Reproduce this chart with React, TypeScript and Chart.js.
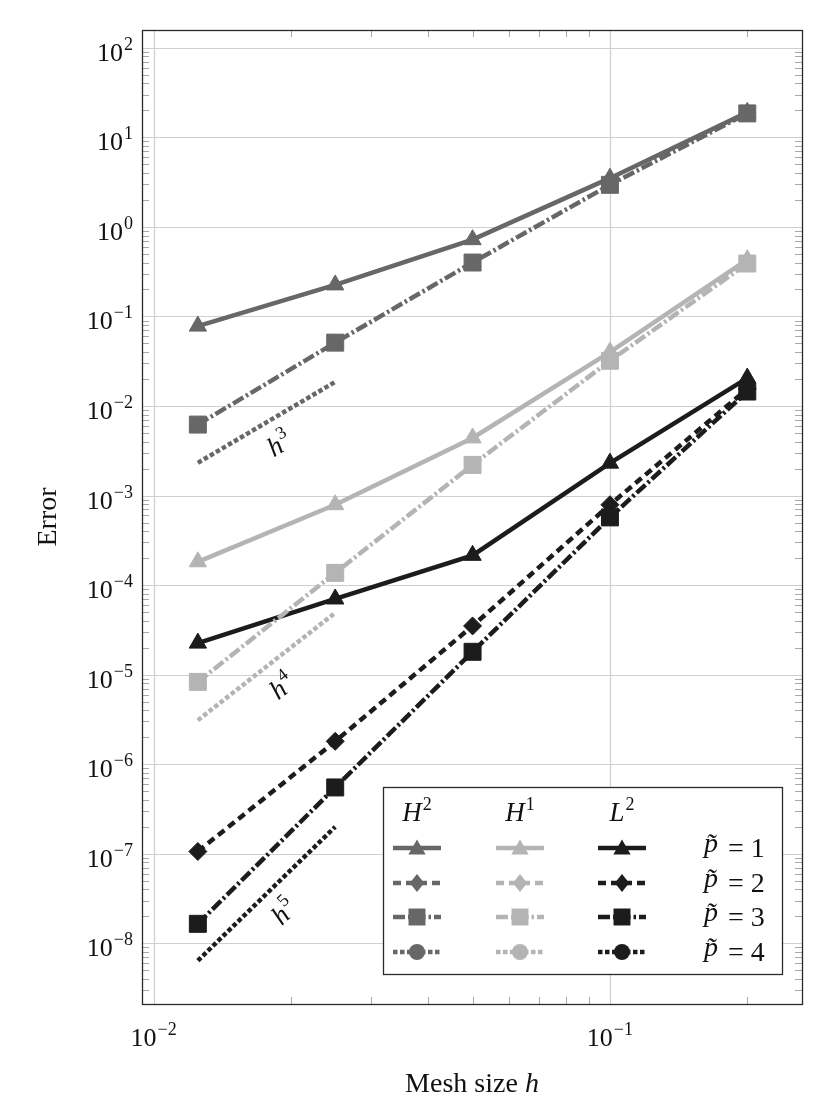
import React, { useEffect, useRef } from 'react';
import { Chart, registerables } from 'chart.js';

Chart.register(...registerables);

// ---------- data ----------
const meshSizes = [0.0125, 0.025, 0.05, 0.1, 0.2];

const h2P1 = [0.078, 0.225, 0.72, 3.5, 19];
const h2P3 = [0.0062, 0.051, 0.4, 2.95, 18.5];
const h1P1 = [1.82e-4, 7.9e-4, 4.4e-3, 0.04, 0.43];
const h1P3 = [8.3e-6, 1.37e-4, 2.2e-3, 0.032, 0.39];
const l2P1 = [2.25e-5, 7.0e-5, 2.15e-4, 2.3e-3, 0.0205];
const l2P2 = [1.06e-7, 1.8e-6, 3.5e-5, 7.9e-4, 0.0155];
const l2P3 = [1.65e-8, 5.5e-7, 1.8e-5, 5.7e-4, 0.0145];

const slopeX = [0.0125, 0.025];
const h3Ref = [0.00232, 0.0186];
const h4Ref = [3.1e-6, 4.9e-5];
const h5Ref = [6.4e-9, 2.0e-7];
const slopeLabels = ['3', '4', '5'];

const yTickExponents = [2, 1, 0, -1, -2, -3, -4, -5, -6, -7, -8];
const xTickExponents = [-2, -1];

const legendColumnBases = ['H', 'H', 'L'];
const legendColumnExps = ['2', '1', '2'];
const legendRowValues = ['1', '2', '3', '4'];

const xTitle = 'Mesh size ';
const xTitleVar = 'h';
const yTitle = 'Error';

// ---------- styles ----------
const DARK = '#676767';
const LIGHT = '#b4b4b4';
const BLACK = '#1c1c1c';
const SOLID: number[] = [];
const DASHED = [8, 5];
const DASHDOT = [12, 3, 2.5, 3];
const DOTTED = [4.5, 2.5];
const LW = 4.5;
const SERIF = "'Liberation Serif', 'DejaVu Serif', serif";

const xy = (ys: number[], xs: number[] = meshSizes) => xs.map((x, i) => ({ x, y: ys[i] }));

const series = (
  label: string,
  ys: number[],
  color: string,
  dash: number[],
  pointStyle: string,
  r: number
) => ({
  label,
  data: xy(ys),
  borderColor: color,
  backgroundColor: color,
  pointBackgroundColor: color,
  pointBorderColor: color,
  borderWidth: LW,
  borderDash: dash,
  pointStyle,
  pointRadius: r,
  pointBorderWidth: 1,
  showLine: true,
  fill: false,
  tension: 0,
});

const slope = (label: string, ys: number[], color: string) => ({
  label,
  data: xy(ys, slopeX),
  borderColor: color,
  backgroundColor: color,
  borderWidth: LW,
  borderDash: DOTTED,
  pointRadius: 0,
  showLine: true,
  fill: false,
  tension: 0,
});

function drawMarker(ctx: CanvasRenderingContext2D, style: string, x: number, y: number, r: number, color: string) {
  ctx.save();
  ctx.setLineDash([]);
  ctx.fillStyle = color;
  ctx.beginPath();
  if (style === 'triangle') {
    for (let k = 0; k < 3; k++) {
      const a = -Math.PI / 2 + (k * 2 * Math.PI) / 3;
      const px = x + Math.cos(a) * r;
      const py = y + Math.sin(a) * r + r * 0.15;
      if (k === 0) ctx.moveTo(px, py);
      else ctx.lineTo(px, py);
    }
    ctx.closePath();
  } else if (style === 'rectRot') {
    ctx.moveTo(x, y - r);
    ctx.lineTo(x + r * 0.8, y);
    ctx.lineTo(x, y + r);
    ctx.lineTo(x - r * 0.8, y);
    ctx.closePath();
  } else if (style === 'rect') {
    const s = r * Math.SQRT1_2;
    ctx.rect(x - s, y - s, 2 * s, 2 * s);
  } else {
    ctx.arc(x, y, r, 0, Math.PI * 2);
  }
  ctx.fill();
  ctx.restore();
}

function drawPower(
  ctx: CanvasRenderingContext2D,
  base: string,
  exp: string,
  x: number,
  y: number,
  align: 'right' | 'center' | 'left',
  baseFont: string,
  expFont: string,
  expRise: number
) {
  ctx.save();
  ctx.textBaseline = 'alphabetic';
  ctx.textAlign = 'left';
  ctx.font = baseFont;
  const bw = ctx.measureText(base).width;
  ctx.font = expFont;
  const ew = ctx.measureText(exp).width;
  const total = bw + ew + 1;
  let left = x;
  if (align === 'right') left = x - total;
  else if (align === 'center') left = x - total / 2;
  ctx.font = baseFont;
  ctx.fillText(base, left, y);
  ctx.font = expFont;
  ctx.fillText(exp, left + bw + 1, y - expRise);
  ctx.restore();
}

const decorPlugin = {
  id: 'decor',
  beforeDatasetsDraw(chart: any) {
    const { ctx, chartArea: a, scales } = chart;
    const xs = scales.x;
    const ys = scales.y;
    ctx.save();
    // major grid
    ctx.strokeStyle = '#cfcfcf';
    ctx.lineWidth = 1.2;
    ctx.setLineDash([]);
    yTickExponents.forEach((e) => {
      const py = Math.round(ys.getPixelForValue(Math.pow(10, e))) + 0.5;
      ctx.beginPath();
      ctx.moveTo(a.left, py);
      ctx.lineTo(a.right, py);
      ctx.stroke();
    });
    xTickExponents.forEach((e) => {
      const px = Math.round(xs.getPixelForValue(Math.pow(10, e))) + 0.5;
      ctx.beginPath();
      ctx.moveTo(px, a.top);
      ctx.lineTo(px, a.bottom);
      ctx.stroke();
    });
    // minor ticks (inside)
    ctx.strokeStyle = '#a8a8a8';
    ctx.lineWidth = 1;
    for (let n = -10; n <= 3; n++) {
      for (let k = 2; k <= 9; k++) {
        const v = k * Math.pow(10, n);
        if (v > ys.min && v < ys.max) {
          const py = Math.round(ys.getPixelForValue(v)) + 0.5;
          ctx.beginPath();
          ctx.moveTo(a.left, py);
          ctx.lineTo(a.left + 7, py);
          ctx.moveTo(a.right, py);
          ctx.lineTo(a.right - 7, py);
          ctx.stroke();
        }
        if (v > xs.min && v < xs.max) {
          const px = Math.round(xs.getPixelForValue(v)) + 0.5;
          ctx.beginPath();
          ctx.moveTo(px, a.top);
          ctx.lineTo(px, a.top + 7);
          ctx.moveTo(px, a.bottom);
          ctx.lineTo(px, a.bottom - 7);
          ctx.stroke();
        }
      }
    }
    ctx.restore();
  },
  afterDraw(chart: any) {
    const { ctx, chartArea: a, scales } = chart;
    const xs = scales.x;
    const ys = scales.y;
    ctx.save();
    // frame
    ctx.strokeStyle = '#2a2a2a';
    ctx.lineWidth = 1.3;
    ctx.setLineDash([]);
    ctx.strokeRect(Math.round(a.left) + 0.5, Math.round(a.top) + 0.5, Math.round(a.right - a.left), Math.round(a.bottom - a.top));

    ctx.fillStyle = '#111';
    const baseFont = `26px ${SERIF}`;
    const expFont = `18px ${SERIF}`;
    // y tick labels
    yTickExponents.forEach((e) => {
      const py = ys.getPixelForValue(Math.pow(10, e));
      const ex = e < 0 ? '\u2212' + String(-e) : String(e);
      drawPower(ctx, '10', ex, a.left - 9, py + 13, 'right', baseFont, expFont, 11);
    });
    // x tick labels
    xTickExponents.forEach((e) => {
      const px = xs.getPixelForValue(Math.pow(10, e));
      const ex = e < 0 ? '\u2212' + String(-e) : String(e);
      drawPower(ctx, '10', ex, px, a.bottom + 42, 'center', baseFont, expFont, 11);
    });

    // axis titles
    ctx.font = `28px ${SERIF}`;
    ctx.textBaseline = 'alphabetic';
    const tw = ctx.measureText(xTitle).width;
    ctx.font = `italic 28px ${SERIF}`;
    const hw = ctx.measureText(xTitleVar).width;
    const cx = (a.left + a.right) / 2;
    const tx = cx - (tw + hw) / 2;
    ctx.textAlign = 'left';
    ctx.font = `28px ${SERIF}`;
    ctx.fillText(xTitle, tx, a.bottom + 88);
    ctx.font = `italic 28px ${SERIF}`;
    ctx.fillText(xTitleVar, tx + tw, a.bottom + 88);

    ctx.save();
    ctx.translate(56, (a.top + a.bottom) / 2);
    ctx.rotate(-Math.PI / 2);
    ctx.font = `28px ${SERIF}`;
    ctx.textAlign = 'center';
    ctx.fillText(yTitle, 0, 0);
    ctx.restore();

    // slope labels
    const refs = [h3Ref, h4Ref, h5Ref];
    refs.forEach((ref, i) => {
      const x0 = xs.getPixelForValue(slopeX[0]);
      const y0 = ys.getPixelForValue(ref[0]);
      const x1 = xs.getPixelForValue(slopeX[1]);
      const y1 = ys.getPixelForValue(ref[1]);
      const ang = Math.atan2(y1 - y0, x1 - x0);
      const mx = (x0 + x1) / 2;
      const my = (y0 + y1) / 2;
      const off = 24;
      const lx = mx + Math.sin(-ang) * off;
      const ly = my + Math.cos(ang) * off;
      ctx.save();
      ctx.translate(lx, ly);
      ctx.rotate(ang);
      drawPower(ctx, 'h', slopeLabels[i], 0, 10, 'center', `italic 27px ${SERIF}`, `18px ${SERIF}`, 12);
      ctx.restore();
    });

    // legend
    const bx0 = 383, by0 = 787, bx1 = 782, by1 = 974;
    ctx.fillStyle = '#ffffff';
    ctx.fillRect(bx0, by0, bx1 - bx0, by1 - by0);
    ctx.strokeStyle = '#2a2a2a';
    ctx.lineWidth = 1.3;
    ctx.strokeRect(bx0 + 0.5, by0 + 0.5, bx1 - bx0, by1 - by0);
    const colX = [417, 520, 622];
    const colColors = [DARK, LIGHT, BLACK];
    const rowY = [848, 883, 917, 952];
    const rowDash = [SOLID, DASHED, DASHDOT, DOTTED];
    const rowMarker = ['triangle', 'rectRot', 'rect', 'circle'];
    const rowR = [10, 9, 12, 8];
    ctx.fillStyle = '#111';
    colX.forEach((x, c) => {
      drawPower(ctx, legendColumnBases[c], legendColumnExps[c], x, 821, 'center', `italic 27px ${SERIF}`, `18px ${SERIF}`, 11);
    });
    rowY.forEach((y, r) => {
      colX.forEach((x, c) => {
        ctx.save();
        ctx.strokeStyle = colColors[c];
        ctx.lineWidth = LW;
        ctx.lineCap = 'butt';
        ctx.setLineDash(rowDash[r]);
        ctx.beginPath();
        ctx.moveTo(x - 24, y);
        ctx.lineTo(x + 24, y);
        ctx.stroke();
        ctx.restore();
        drawMarker(ctx, rowMarker[r], x, y, rowR[r], colColors[c]);
      });
      ctx.fillStyle = '#111';
      ctx.textAlign = 'left';
      ctx.textBaseline = 'alphabetic';
      ctx.font = `italic 28px ${SERIF}`;
      ctx.fillText('p\u0303', 704, y + 4);
      ctx.font = `28px ${SERIF}`;
      ctx.fillText('= ' + legendRowValues[r], 728, y + 9);
    });
    ctx.restore();
  },
};

export default function App() {
  const canvasRef = useRef<HTMLCanvasElement | null>(null);

  useEffect(() => {
    if (!canvasRef.current) return;
    const chart = new Chart(canvasRef.current, {
      type: 'scatter',
      data: {
        datasets: [
          slope('h3', h3Ref, DARK),
          slope('h4', h4Ref, LIGHT),
          slope('h5', h5Ref, BLACK),
          series('H2 p=3', h2P3, DARK, DASHDOT, 'rect', 12),
          series('H2 p=1', h2P1, DARK, SOLID, 'triangle', 10),
          series('H1 p=3', h1P3, LIGHT, DASHDOT, 'rect', 12),
          series('H1 p=1', h1P1, LIGHT, SOLID, 'triangle', 10),
          series('L2 p=3', l2P3, BLACK, DASHDOT, 'rect', 12),
          series('L2 p=2', l2P2, BLACK, DASHED, 'rectRot', 9),
          series('L2 p=1', l2P1, BLACK, SOLID, 'triangle', 10),
        ] as any,
      },
      options: {
        responsive: false,
        animation: false,
        devicePixelRatio: 1,
        layout: { padding: { top: 30, right: 29, left: 0, bottom: 0 } },
        plugins: { legend: { display: false }, tooltip: { enabled: false } },
        scales: {
          x: {
            type: 'logarithmic',
            min: 0.00943,
            max: 0.2636,
            grid: { display: false },
            border: { display: false },
            ticks: { display: false },
            afterFit: (s: any) => {
              s.height = 108;
            },
          },
          y: {
            type: 'logarithmic',
            min: 2.1e-9,
            max: 158,
            grid: { display: false },
            border: { display: false },
            ticks: { display: false },
            afterFit: (s: any) => {
              s.width = 142;
            },
          },
        },
      } as any,
      plugins: [decorPlugin],
    });
    return () => chart.destroy();
  }, []);

  return (
    <div style={{ position: 'absolute', left: 0, top: 0, width: 831, height: 1112, background: '#fff' }}>
      <canvas ref={canvasRef} width={831} height={1112} style={{ width: 831, height: 1112 }} />
    </div>
  );
}
